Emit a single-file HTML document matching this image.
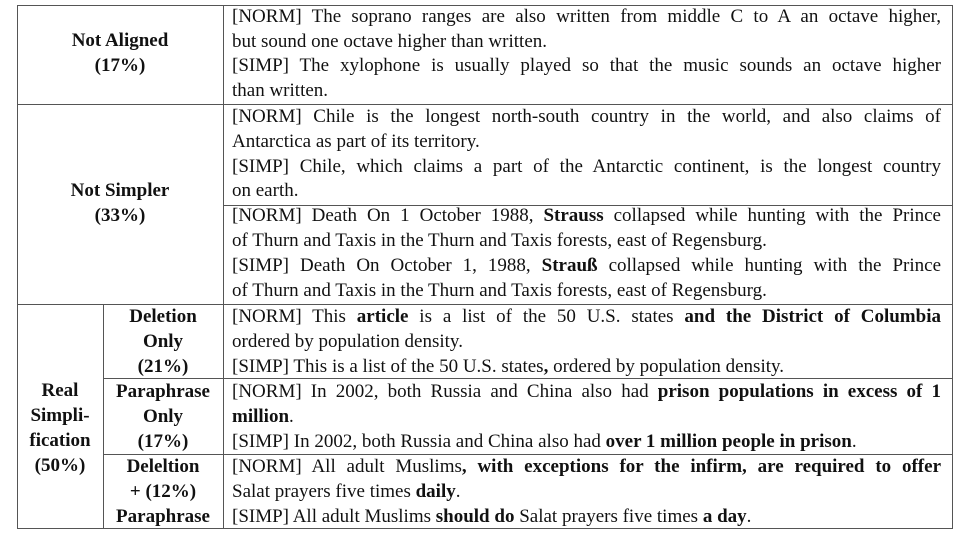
<!DOCTYPE html>
<html><head><meta charset="utf-8"><style>
body{margin:0;width:969px;height:546px;background:#fff;position:relative;overflow:hidden;font-family:"Liberation Serif",serif;font-size:19px;color:#111}
.h{position:absolute;background:#555;height:1px}
.v{position:absolute;background:#555;width:1px}
.l{position:absolute;left:232px;width:709px;height:25px;line-height:25px;white-space:nowrap}
.j{text-align:justify;text-align-last:justify}
.c{position:absolute;text-align:center;font-weight:bold;line-height:25px;white-space:nowrap}
</style></head><body>
<div>
<div class="h" style="left:17px;width:936px;top:5px"></div>
<div class="h" style="left:17px;width:936px;top:104px"></div>
<div class="h" style="left:223px;width:730px;top:205px"></div>
<div class="h" style="left:17px;width:936px;top:304px"></div>
<div class="h" style="left:103px;width:850px;top:378px"></div>
<div class="h" style="left:103px;width:850px;top:454px"></div>
<div class="h" style="left:17px;width:936px;top:528px"></div>
<div class="v" style="left:17px;top:5px;height:524px"></div>
<div class="v" style="left:223px;top:5px;height:524px"></div>
<div class="v" style="left:103px;top:304px;height:225px"></div>
<div class="v" style="left:952px;top:5px;height:524px"></div>

<div class="c" style="left:17px;width:206px;top:28px">Not Aligned<br>(17%)</div>
<div class="c" style="left:17px;width:206px;top:178px">Not Simpler<br>(33%)</div>
<div class="c" style="left:17px;width:86px;top:378px">Real<br>Simpli-<br>fication<br>(50%)</div>
<div class="c" style="left:103px;width:120px;top:304px">Deletion<br>Only<br>(21%)</div>
<div class="c" style="left:103px;width:120px;top:379px">Paraphrase<br>Only<br>(17%)</div>
<div class="c" style="left:103px;width:120px;top:454px">Deleltion<br>+ (12%)<br>Paraphrase</div>

<div>
<div class="l j" style="top:4px">[NORM] The soprano ranges are also written from middle C to A an octave higher,</div>
<div class="l" style="top:29px">but sound one octave higher than written.</div>
<div class="l j" style="top:53px">[SIMP] The xylophone is usually played so that the music sounds an octave higher</div>
<div class="l" style="top:78px">than written.</div>

<div class="l j" style="top:104px">[NORM] Chile is the longest north-south country in the world, and also claims of</div>
<div class="l" style="top:129px">Antarctica as part of its territory.</div>
<div class="l j" style="top:154px">[SIMP] Chile, which claims a part of the Antarctic continent, is the longest country</div>
<div class="l" style="top:178px">on earth.</div>
<div class="l j" style="top:203px">[NORM] Death On 1 October 1988, <b>Strauss</b> collapsed while hunting with the Prince</div>
<div class="l" style="top:228px">of Thurn and Taxis in the Thurn and Taxis forests, east of Regensburg.</div>
<div class="l j" style="top:253px">[SIMP] Death On October 1, 1988, <b>Strauß</b> collapsed while hunting with the Prince</div>
<div class="l" style="top:278px">of Thurn and Taxis in the Thurn and Taxis forests, east of Regensburg.</div>

<div class="l j" style="top:304px">[NORM] This <b>article</b> is a list of the 50 U.S. states <b>and the District of Columbia</b></div>
<div class="l" style="top:329px">ordered by population density.</div>
<div class="l" style="top:354px">[SIMP] This is a list of the 50 U.S. states<b>,</b> ordered by population density.</div>
<div class="l j" style="top:379px">[NORM] In 2002, both Russia and China also had <b>prison populations in excess of 1</b></div>
<div class="l" style="top:404px"><b>million</b>.</div>
<div class="l" style="top:429px">[SIMP] In 2002, both Russia and China also had <b>over 1 million people in prison</b>.</div>
<div class="l j" style="top:454px">[NORM] All adult Muslims<b>, with exceptions for the infirm, are required to offer</b></div>
<div class="l" style="top:479px">Salat prayers five times <b>daily</b>.</div>
<div class="l" style="top:504px">[SIMP] All adult Muslims <b>should do</b> Salat prayers five times <b>a day</b>.</div>
</div>
</div>
</body></html>
